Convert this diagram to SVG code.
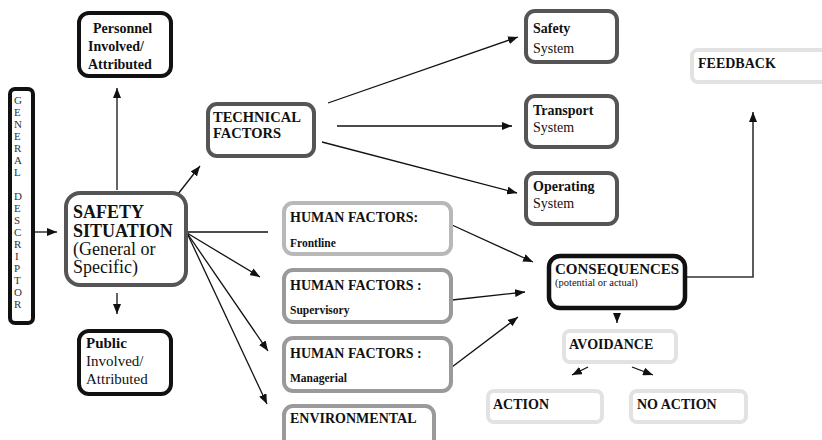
<svg xmlns="http://www.w3.org/2000/svg" width="822" height="440" viewBox="0 0 822 440">
<defs>
<style>
text{font-family:"Liberation Serif","Times New Roman",serif;fill:#111}
.b{font-weight:bold}
.box{fill:#fff;stroke-width:4}
.k{stroke:#111}
.d{stroke:#555}
.m{stroke:#9a9a9a}
.l{stroke:#b8b8b8}
.x{stroke:#e2e2e2}
.c{stroke:#111;stroke-width:1.3;fill:none}
.desc{font-size:11px;fill:#333}
</style>
<marker id="ah" markerWidth="10" markerHeight="8" refX="10" refY="4" orient="auto" markerUnits="userSpaceOnUse">
<path d="M0,0 L10,4 L0,8 Z" fill="#111"/>
</marker>
</defs>
<rect width="822" height="440" fill="#fff"/>

<g id="connectors">
<line class="c" x1="35" y1="232" x2="57" y2="232" marker-end="url(#ah)"/>
<line class="c" x1="117" y1="190" x2="117" y2="88" marker-end="url(#ah)"/>
<line class="c" x1="117" y1="293" x2="117" y2="314" marker-end="url(#ah)"/>
<line class="c" x1="178" y1="194" x2="200" y2="166" marker-end="url(#ah)"/>
<line class="c" x1="187" y1="232" x2="268" y2="232"/>
<line class="c" x1="187" y1="233" x2="260" y2="277" marker-end="url(#ah)"/>
<line class="c" x1="187" y1="233" x2="268" y2="351" marker-end="url(#ah)"/>
<line class="c" x1="187" y1="233" x2="267" y2="404" marker-end="url(#ah)"/>
<line class="c" x1="328" y1="103" x2="518" y2="37" marker-end="url(#ah)"/>
<line class="c" x1="337" y1="126" x2="512" y2="126" marker-end="url(#ah)"/>
<line class="c" x1="322" y1="142" x2="517" y2="193" marker-end="url(#ah)"/>
<line class="c" x1="452" y1="225" x2="533" y2="262" marker-end="url(#ah)"/>
<line class="c" x1="452" y1="300" x2="525" y2="292" marker-end="url(#ah)"/>
<line class="c" x1="452" y1="367" x2="518" y2="317" marker-end="url(#ah)"/>
<polyline class="c" points="686,277 753,277 753,112" marker-end="url(#ah)" style="stroke:#333;stroke-width:1.6"/>
<line class="c" x1="617" y1="313" x2="617" y2="323" marker-end="url(#ah)"/>
<line class="c" x1="588" y1="367" x2="572" y2="375" marker-end="url(#ah)"/>
<line class="c" x1="632" y1="367" x2="653" y2="375" marker-end="url(#ah)"/>
</g>

<g id="general-descriptor">
<rect class="box k" x="10" y="89" width="23" height="234" rx="5"/>
<text class="desc" x="14" y="104">G</text>
<text class="desc" x="14" y="116">E</text>
<text class="desc" x="14" y="128">N</text>
<text class="desc" x="14" y="140">E</text>
<text class="desc" x="14" y="152">R</text>
<text class="desc" x="14" y="164">A</text>
<text class="desc" x="14" y="176">L</text>
<text class="desc" x="14" y="200">D</text>
<text class="desc" x="14" y="212">E</text>
<text class="desc" x="14" y="224">S</text>
<text class="desc" x="14" y="236">C</text>
<text class="desc" x="14" y="248">R</text>
<text class="desc" x="15" y="260">I</text>
<text class="desc" x="14" y="272">P</text>
<text class="desc" x="14" y="284">T</text>
<text class="desc" x="14" y="296">O</text>
<text class="desc" x="14" y="308">R</text>
</g>

<g id="safety-situation">
<rect class="box d" x="66" y="193" width="120" height="92" rx="14"/>
<text class="b" x="73" y="218" font-size="18">SAFETY</text>
<text class="b" x="73" y="237" font-size="18">SITUATION</text>
<text x="73" y="255" font-size="18">(General or</text>
<text x="73" y="273" font-size="18">Specific)</text>
</g>

<g id="personnel">
<rect class="box k" x="79" y="13" width="92" height="63" rx="10"/>
<text class="b" x="93" y="33" font-size="14">Personnel</text>
<text class="b" x="88" y="51" font-size="14">Involved/</text>
<text class="b" x="88" y="69" font-size="14">Attributed</text>
</g>

<g id="public">
<rect class="box k" x="79" y="331" width="92" height="63" rx="10"/>
<text class="b" x="86" y="348" font-size="15">Public</text>
<text x="86" y="366" font-size="15">Involved/</text>
<text x="86" y="384" font-size="15">Attributed</text>
</g>

<g id="technical">
<rect class="box d" x="208" y="104" width="106" height="52" rx="9"/>
<text class="b" x="213" y="122" font-size="14.5">TECHNICAL</text>
<text class="b" x="213" y="138" font-size="14.5">FACTORS</text>
</g>

<g id="safety-system">
<rect class="box d" x="526" y="11" width="91" height="51" rx="9"/>
<text class="b" x="533" y="33" font-size="14">Safety</text>
<text x="533" y="53" font-size="14">System</text>
</g>

<g id="transport-system">
<rect class="box d" x="526" y="96" width="91" height="51" rx="9"/>
<text class="b" x="533" y="115" font-size="14">Transport</text>
<text x="533" y="132" font-size="14">System</text>
</g>

<g id="operating-system">
<rect class="box d" x="526" y="173" width="91" height="51" rx="9"/>
<text class="b" x="533" y="191" font-size="14">Operating</text>
<text x="533" y="208" font-size="14">System</text>
</g>

<g id="hf-frontline">
<rect class="box l" x="284" y="203" width="167" height="51" rx="9"/>
<text class="b" x="290" y="222" font-size="14">HUMAN FACTORS:</text>
<text class="b" x="290" y="247" font-size="11.5">Frontline</text>
</g>

<g id="hf-supervisory">
<rect class="box m" x="284" y="270" width="167" height="52" rx="9"/>
<text class="b" x="290" y="290" font-size="14">HUMAN FACTORS :</text>
<text class="b" x="290" y="314" font-size="11.5">Supervisory</text>
</g>

<g id="hf-managerial">
<rect class="box m" x="284" y="338" width="167" height="53" rx="9"/>
<text class="b" x="290" y="358" font-size="14">HUMAN FACTORS :</text>
<text class="b" x="290" y="382" font-size="11.5">Managerial</text>
</g>

<g id="environmental">
<rect class="box m" x="284" y="406" width="150" height="46" rx="9"/>
<text class="b" x="290" y="423" font-size="14">ENVIRONMENTAL</text>
</g>

<g id="consequences">
<rect class="box k" x="549" y="256" width="136" height="52" rx="11" style="stroke-width:4.5"/>
<text class="b" x="555" y="274" font-size="15">CONSEQUENCES</text>
<text x="555" y="286" font-size="10.5">(potential or actual)</text>
</g>

<g id="feedback">
<rect class="box x" x="692" y="50" width="140" height="32" rx="6"/>
<text class="b" x="698" y="68" font-size="14">FEEDBACK</text>
</g>

<g id="avoidance">
<rect class="box x" x="564" y="331" width="112" height="31" rx="6"/>
<text class="b" x="569" y="349" font-size="14">AVOIDANCE</text>
</g>

<g id="action">
<rect class="box x" x="488" y="391" width="114" height="31" rx="6"/>
<text class="b" x="493" y="409" font-size="14">ACTION</text>
</g>

<g id="no-action">
<rect class="box x" x="631" y="391" width="115" height="31" rx="6"/>
<text class="b" x="637" y="409" font-size="14">NO ACTION</text>
</g>
</svg>
